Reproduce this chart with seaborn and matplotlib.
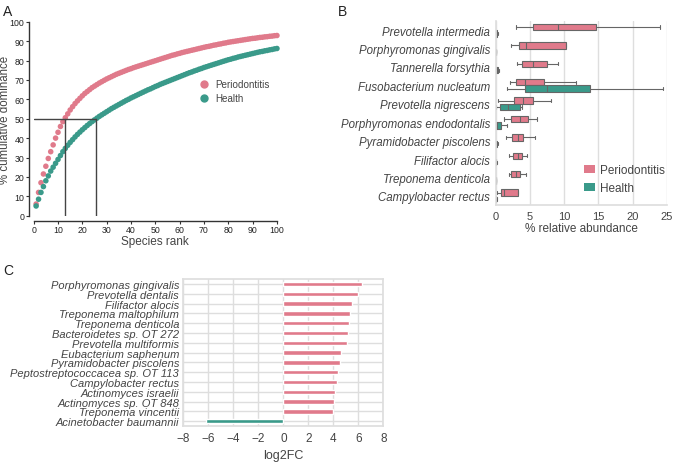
import numpy as np
import pandas as pd
import matplotlib
matplotlib.use("Agg")
import matplotlib.pyplot as plt
from matplotlib.patches import Patch
from matplotlib.lines import Line2D
import seaborn as sns

# Cores dos grupos
pink = "#E07A8B"
teal = "#3A9A8A"
groups = ["Periodontitis", "Health"]
palette = {"Periodontitis": pink, "Health": teal}

# Painel A - dominância cumulativa por posição de espécie (1..100)
ranks = list(range(1, 101))
dom_perio = [6, 12, 17, 21.5, 25.5, 29.5, 33, 36.5, 40, 43,
             46, 48.5, 50.5, 52.5, 54.5, 56.2, 57.8, 59.2, 60.5, 61.8,
             63, 64, 65, 66, 66.8, 67.6, 68.4, 69.1, 69.8, 70.5,
             71.1, 71.7, 72.3, 72.9, 73.4, 73.9, 74.4, 74.9, 75.4, 75.8,
             76.3, 76.7, 77.1, 77.5, 77.9, 78.3, 78.7, 79.1, 79.5, 79.9,
             80.3, 80.7, 81.1, 81.5, 81.9, 82.3, 82.7, 83, 83.4, 83.7,
             84.1, 84.4, 84.7, 85, 85.3, 85.6, 85.9, 86.2, 86.5, 86.8,
             87.1, 87.3, 87.6, 87.9, 88.1, 88.4, 88.6, 88.9, 89.1, 89.4,
             89.6, 89.8, 90, 90.2, 90.4, 90.6, 90.8, 91, 91.2, 91.4,
             91.5, 91.7, 91.9, 92, 92.2, 92.3, 92.5, 92.6, 92.8, 92.9]
dom_health = [5, 8.5, 12, 15, 18, 20.5, 23, 25, 27, 29,
              31, 33, 34.7, 36.3, 37.8, 39.2, 40.6, 41.9, 43.1, 44.3,
              45.4, 46.5, 47.5, 48.5, 49.4, 50.3, 51.2, 52, 52.8, 53.6,
              54.4, 55.2, 55.9, 56.6, 57.3, 58, 58.7, 59.4, 60, 60.7,
              61.3, 61.9, 62.5, 63.1, 63.7, 64.3, 64.9, 65.4, 66, 66.6,
              67.1, 67.7, 68.2, 68.7, 69.2, 69.7, 70.2, 70.7, 71.2, 71.7,
              72.2, 72.7, 73.2, 73.7, 74.1, 74.6, 75, 75.5, 75.9, 76.4,
              76.8, 77.2, 77.6, 78, 78.4, 78.8, 79.2, 79.6, 80, 80.4,
              80.7, 81.1, 81.4, 81.8, 82.1, 82.4, 82.7, 83, 83.3, 83.6,
              83.9, 84.2, 84.5, 84.7, 85, 85.2, 85.5, 85.7, 86, 86.2]

# Painel B - abundância relativa (mín, Q1, mediana, Q3, máx)
b_species = ["Prevotella intermedia", "Porphyromonas gingivalis", "Tannerella forsythia",
             "Fusobacterium nucleatum", "Prevotella nigrescens", "Porphyromonas endodontalis",
             "Pyramidobacter piscolens", "Filifactor alocis", "Treponema denticola",
             "Campylobacter rectus"]
b_perio = [[2.9, 5.5, 9.1, 14.6, 24.0],
           [2.2, 3.4, 4.5, 10.3, 10.3],
           [3.1, 3.9, 5.5, 7.5, 9.1],
           [2.1, 3.0, 4.3, 7.0, 11.7],
           [0.3, 2.7, 4.0, 5.4, 8.1],
           [1.2, 2.3, 3.6, 4.7, 6.0],
           [1.5, 2.4, 3.2, 4.0, 5.8],
           [1.9, 2.5, 3.2, 3.9, 4.6],
           [2.0, 2.3, 3.0, 3.5, 4.5],
           [0.2, 0.7, 1.2, 3.3, 3.3]]
b_health = [[0, 0.05, 0.1, 0.25, 0.35],
            [0, 0, 0.01, 0.02, 0.05],
            [0, 0.05, 0.15, 0.35, 0.45],
            [1.6, 4.3, 7.5, 13.8, 24.4],
            [0.1, 0.6, 1.8, 3.5, 3.9],
            [0, 0.05, 0.2, 0.7, 1.6],
            [0, 0.05, 0.1, 0.2, 0.3],
            [0, 0.02, 0.05, 0.1, 0.2],
            [0, 0, 0.02, 0.05, 0.1],
            [0, 0.02, 0.05, 0.1, 0.2]]

# Painel C - log2 fold change
c_species = ["Porphyromonas gingivalis", "Prevotella dentalis", "Filifactor alocis",
             "Treponema maltophilum", "Treponema denticola", "Bacteroidetes sp. OT 272",
             "Prevotella multiformis", "Eubacterium saphenum", "Pyramidobacter piscolens",
             "Peptostreptococcacea sp. OT 113", "Campylobacter rectus", "Actinomyces israelii",
             "Actinomyces sp. OT 848", "Treponema vincentii", "Acinetobacter baumannii"]
c_log2fc = [6.27, 5.95, 5.47, 5.33, 5.23, 5.15, 5.07, 4.59, 4.51, 4.40,
            4.32, 4.11, 4.03, 4.0, -6.16]

sns.set_theme(style="whitegrid")
plt.rcParams["font.family"] = ["Liberation Sans", "DejaVu Sans"]
text_col = "#444444"
grid_col = "#dedede"

fig = plt.figure(figsize=(6.75, 4.64), dpi=100)

# ---------------- Painel A ----------------
axA = fig.add_axes([0.0499, 0.533, 0.3604, 0.418])
df_a = pd.DataFrame({
    "rank": ranks * 2,
    "dominance": dom_perio + dom_health,
    "group": ["Periodontitis"] * len(ranks) + ["Health"] * len(ranks),
})
sns.scatterplot(data=df_a, x="rank", y="dominance", hue="group", palette=palette,
                s=16, linewidth=0, legend=False, ax=axA, clip_on=False)
# linhas de referência a 50%
r_p = np.interp(50, dom_perio, ranks)
r_h = np.interp(50, dom_health, ranks)
axA.plot([0, r_h], [50, 50], color="#444444", lw=1, zorder=1)
axA.plot([r_p, r_p], [0, 50], color="#444444", lw=1, zorder=1)
axA.plot([r_h, r_h], [0, 50], color="#444444", lw=1, zorder=1)
axA.set_xlim(0, 100)
axA.set_ylim(0, 100)
axA.set_xticks(range(0, 101, 10))
axA.set_yticks(range(0, 101, 10))
axA.grid(False)
axA.set_facecolor("white")
sns.despine(ax=axA, offset=3.6)
for s in ["left", "bottom"]:
    axA.spines[s].set_color("#333333")
    axA.spines[s].set_linewidth(1)
axA.tick_params(axis="both", labelsize=6.3, length=2, width=0.8, color="#333333",
                colors="#222222", pad=1, bottom=True, left=True)
axA.set_xlabel("Species rank", fontsize=8.5, color=text_col, labelpad=1)
axA.set_ylabel("% cumulative dominance", fontsize=8.3, color=text_col)
axA.yaxis.set_label_coords(-0.093, 0.5)
handles_a = [Line2D([], [], marker="o", ls="", color=palette[g], markersize=5) for g in groups]
axA.legend(handles_a, groups, loc="upper left", bbox_to_anchor=(0.64, 0.73), frameon=False,
           fontsize=7.1, handletextpad=0.1, labelspacing=0.4, borderpad=0, labelcolor=text_col)

# ---------------- Painel B ----------------
axB = fig.add_axes([0.7344, 0.556, 0.2533, 0.3966])
rows = []
for sp, pv, hv in zip(b_species, b_perio, b_health):
    for v in pv:
        rows.append((sp, "Periodontitis", v))
    for v in hv:
        rows.append((sp, "Health", v))
df_b = pd.DataFrame(rows, columns=["species", "group", "abundance"])
sns.boxplot(data=df_b, x="abundance", y="species", hue="group", order=b_species,
            hue_order=groups, palette=palette, saturation=1, whis=(0, 100), width=0.7, gap=0,
            linecolor="#666666", linewidth=0.8, fliersize=0, legend=False, ax=axB)
axB.set_xlim(0, 25)
axB.set_xticks(range(0, 26, 5))
axB.grid(axis="x", color=grid_col, lw=1)
axB.grid(axis="y", visible=False)
axB.spines["top"].set_visible(False)
axB.spines["right"].set_visible(False)
for s in ["left", "bottom"]:
    axB.spines[s].set_color(grid_col)
axB.tick_params(axis="x", labelsize=8, colors=text_col, length=0, pad=4)
axB.tick_params(axis="y", labelsize=8.3, colors=text_col, length=0, pad=4)
for lab in axB.get_yticklabels():
    lab.set_style("italic")
axB.set_ylabel("")
axB.set_xlabel("% relative abundance", fontsize=8.5, color=text_col, labelpad=1)
handles_b = [Patch(facecolor=palette[g], edgecolor="none") for g in groups]
axB.legend(handles_b, groups, loc="lower left", bbox_to_anchor=(0.48, 0.027), frameon=False,
           fontsize=8.5, handlelength=1.0, handleheight=0.75, handletextpad=0.4,
           labelspacing=0.5, borderpad=0, labelcolor=text_col)

# ---------------- Painel C ----------------
axC = fig.add_axes([0.2716, 0.0797, 0.2963, 0.3168])
c_group = ["Periodontitis" if v > 0 else "Health" for v in c_log2fc]
sns.barplot(x=c_log2fc, y=c_species, hue=c_group, palette=palette, saturation=1,
            dodge=False, width=0.45, legend=False, ax=axC)
axC.set_xlim(-8, 8)
axC.set_xticks(range(-8, 9, 2))
axC.grid(True, color=grid_col, lw=1)
for s in axC.spines.values():
    s.set_color(grid_col)
axC.tick_params(axis="x", labelsize=8.5, colors=text_col, length=0, pad=4)
axC.tick_params(axis="y", labelsize=8, colors=text_col, length=0, pad=3)
for lab in axC.get_yticklabels():
    lab.set_style("italic")
axC.set_xlabel("log2FC", fontsize=9, color=text_col, labelpad=4)
axC.set_ylabel("")

# Letras dos painéis
fig.text(0.005, 0.975, "A", fontsize=10, color="#222222", va="center")
fig.text(0.50, 0.975, "B", fontsize=10, color="#222222", va="center")
fig.text(0.005, 0.415, "C", fontsize=10, color="#222222", va="center")

fig.savefig("out.png", dpi=100)
